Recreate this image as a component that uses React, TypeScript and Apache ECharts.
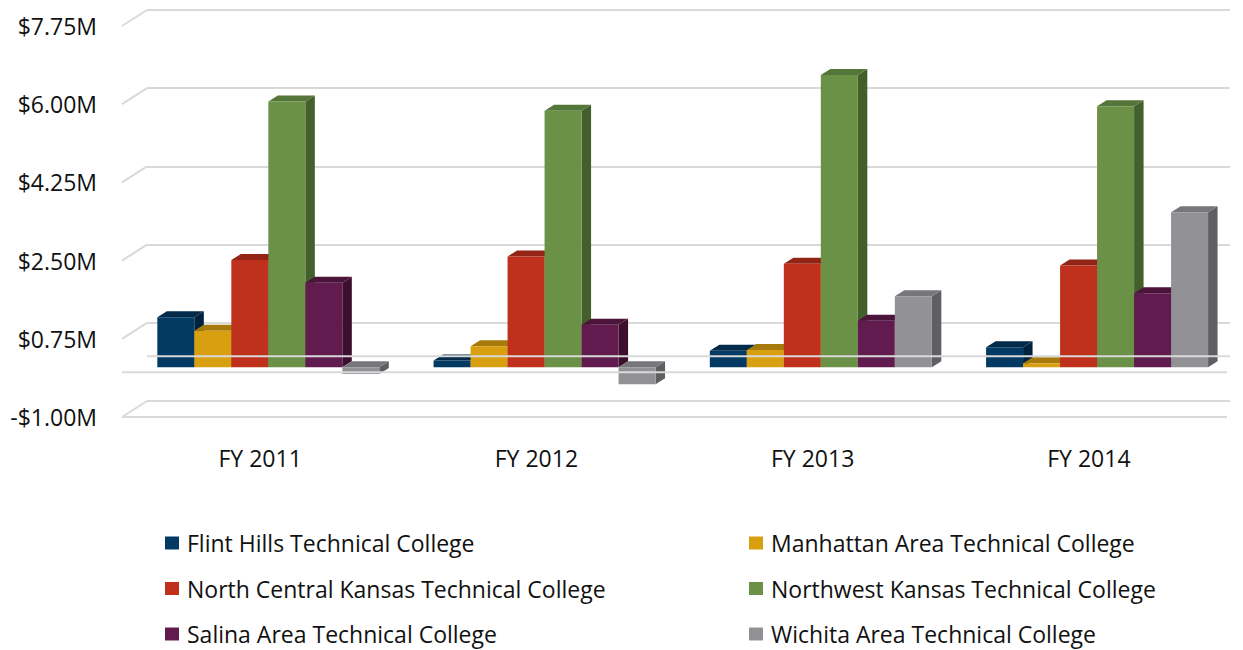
import React, { useEffect, useRef } from "react";
import * as echarts from "echarts";

// ---------- data ----------
const CATEGORIES = ["FY 2011", "FY 2012", "FY 2013", "FY 2014"];
const SERIES_NAMES = [
  "Flint Hills Technical College",
  "Manhattan Area Technical College",
  "North Central Kansas Technical College",
  "Northwest Kansas Technical College",
  "Salina Area Technical College",
  "Wichita Area Technical College",
];
const FLINT_HILLS = [1.12, 0.15, 0.37, 0.45];
const MANHATTAN = [0.82, 0.47, 0.39, 0.09];
const NORTH_CENTRAL = [2.4, 2.48, 2.32, 2.28];
const NORTHWEST = [5.95, 5.74, 6.54, 5.84];
const SALINA = [1.89, 0.95, 1.04, 1.66];
const WICHITA = [-0.15, -0.38, 1.59, 3.47];
const SERIES_VALUES = [FLINT_HILLS, MANHATTAN, NORTH_CENTRAL, NORTHWEST, SALINA, WICHITA];
const Y_TICKS = [-1, 0.75, 2.5, 4.25, 6, 7.75];

// ---------- styles ----------
const FRONT_COLORS = ["#033a63", "#d8a010", "#c0311d", "#6a9146", "#621b4e", "#929296"];
const TOP_COLORS = ["#022b4b", "#a67b0b", "#922515", "#55763a", "#4c133b", "#77777b"];
const SIDE_COLORS = ["#01223d", "#8a660a", "#7a1f11", "#435f2c", "#3d0f2f", "#5f5f63"];
const GRID_COLOR = "#d9d9d9";
const TEXT_COLOR = "#111111";
const FONT = "'Open Sans', 'Noto Sans', sans-serif";
const FONT_SIZE = 23;

const AXIS_MIN = Y_TICKS[0];
const AXIS_INTERVAL = Y_TICKS[1] - Y_TICKS[0];
const AXIS_SPAN = Y_TICKS[Y_TICKS.length - 1] - Y_TICKS[0];

const WALL_DX = 25;
const WALL_DY = -16;
const FACE_DY = -5;
const DEPTH_DX = 9.5;
const DEPTH_DY = -6;
const BAR_W_FRAC = 37 / 276.25;
const GROUP_OFFSET_FRAC = -102.8 / 276.25;

const fmt = (v: number) => {
  const real = Math.round((v + AXIS_MIN) * 100) / 100;
  return (real < 0 ? "-" : "") + "$" + Math.abs(real).toFixed(2) + "M";
};

function makeBarRender(si: number) {
  return (params: any, api: any) => {
    const j = api.value(0);
    const v = api.value(1);
    const base = api.coord([j, 0 - AXIS_MIN]);
    const tip = api.coord([j, v - AXIS_MIN]);
    const band = api.size([1, 0])[0];
    const w = band * BAR_W_FRAC;
    const x0 = base[0] + band * GROUP_OFFSET_FRAC + si * w;
    const x1 = x0 + w;
    const yt = Math.min(base[1], tip[1]) + FACE_DY;
    const yb = Math.max(base[1], tip[1]) + FACE_DY;
    return {
      type: "group",
      children: [
        {
          type: "polygon",
          shape: {
            points: [
              [x1, yt],
              [x1 + DEPTH_DX, yt + DEPTH_DY],
              [x1 + DEPTH_DX, yb + DEPTH_DY],
              [x1, yb],
            ],
          },
          style: { fill: SIDE_COLORS[si] },
        },
        {
          type: "polygon",
          shape: {
            points: [
              [x0, yt],
              [x1, yt],
              [x1 + DEPTH_DX, yt + DEPTH_DY],
              [x0 + DEPTH_DX, yt + DEPTH_DY],
            ],
          },
          style: { fill: TOP_COLORS[si] },
        },
        {
          type: "rect",
          shape: { x: x0, y: yt, width: w, height: Math.max(yb - yt, 0.5) },
          style: { fill: FRONT_COLORS[si] },
        },
      ],
    };
  };
}

function frameRender(params: any, api: any) {
  const t = api.value(1);
  const cs = params.coordSys;
  const p = api.coord([0, t - AXIS_MIN]);
  const y = p[1];
  const children: any[] = [
    {
      type: "line",
      shape: { x1: cs.x, y1: y, x2: cs.x + WALL_DX, y2: y + WALL_DY },
      style: { stroke: GRID_COLOR, lineWidth: 2 },
    },
  ];
  if (params.dataIndex === 0) {
    children.push({
      type: "line",
      shape: { x1: cs.x, y1: y, x2: cs.x + cs.width, y2: y },
      style: { stroke: GRID_COLOR, lineWidth: 2 },
    });
  }
  return { type: "group", children };
}

function floorRender(params: any, api: any) {
  const cs = params.coordSys;
  const p = api.coord([0, api.value(1) - AXIS_MIN]);
  const y = p[1];
  return {
    type: "group",
    children: [
      {
        type: "line",
        shape: { x1: cs.x + WALL_DX, y1: y + WALL_DY, x2: cs.x + cs.width + 3, y2: y + WALL_DY },
        style: { stroke: GRID_COLOR, lineWidth: 2 },
      },
      {
        type: "line",
        shape: { x1: cs.x, y1: y, x2: cs.x + cs.width, y2: y },
        style: { stroke: GRID_COLOR, lineWidth: 2 },
      },
    ],
  };
}

export default function App() {
  const ref = useRef<HTMLDivElement>(null);
  useEffect(() => {
    document.body.style.margin = "0";
    if (!ref.current) return;
    const chart = echarts.init(ref.current, null, { renderer: "svg" });
    const yAxisCommon = {
      type: "value",
      min: 0,
      max: AXIS_SPAN,
      interval: AXIS_INTERVAL,
    };
    const barSeries = SERIES_NAMES.map((name, si) => ({
      name,
      type: "custom",
      xAxisIndex: 0,
      yAxisIndex: 0,
      z: 2,
      clip: false,
      itemStyle: { color: FRONT_COLORS[si] },
      renderItem: makeBarRender(si),
      encode: { x: 0, y: 1 },
      data: SERIES_VALUES[si].map((v, j) => [j, v]),
    }));
    const legendCommon = {
      top: 531,
      orient: "vertical",
      padding: 0,
      icon: "rect",
      itemWidth: 14,
      itemHeight: 13,
      itemGap: 21.5,
      selectedMode: false,
      textStyle: {
        fontSize: FONT_SIZE,
        lineHeight: 24,
        color: TEXT_COLOR,
        fontFamily: FONT,
        padding: [0, 0, 0, 3],
      },
    };
    chart.setOption({
      animation: false,
      backgroundColor: "#ffffff",
      textStyle: { fontFamily: FONT },
      grid: [
        { left: 122, top: 26, width: 1105, height: 391 },
        { left: 147, top: 10, width: 1083, height: 391 },
      ],
      xAxis: [
        {
          type: "category",
          gridIndex: 0,
          data: CATEGORIES,
          axisLine: { show: false },
          axisTick: { show: false },
          axisLabel: {
            margin: 29,
            fontSize: FONT_SIZE,
            color: TEXT_COLOR,
            fontFamily: FONT,
          },
        },
        {
          type: "category",
          gridIndex: 1,
          data: CATEGORIES,
          show: false,
        },
      ],
      yAxis: [
        {
          ...yAxisCommon,
          gridIndex: 0,
          axisLine: { show: false },
          axisTick: { show: false },
          splitLine: { show: false },
          axisLabel: {
            margin: 25,
            fontSize: FONT_SIZE,
            color: TEXT_COLOR,
            fontFamily: FONT,
            formatter: fmt,
          },
        },
        {
          ...yAxisCommon,
          gridIndex: 1,
          axisLine: { show: false },
          axisTick: { show: false },
          axisLabel: { show: false },
          splitLine: { show: true, lineStyle: { color: GRID_COLOR, width: 2 } },
        },
      ],
      legend: [
        {
          ...legendCommon,
          left: 165,
          data: [SERIES_NAMES[0], SERIES_NAMES[2], SERIES_NAMES[4]],
        },
        {
          ...legendCommon,
          left: 749,
          data: [SERIES_NAMES[1], SERIES_NAMES[3], SERIES_NAMES[5]],
        },
      ],
      series: [
        ...barSeries,
        {
          name: "frame",
          type: "custom",
          xAxisIndex: 0,
          yAxisIndex: 0,
          z: 3,
          silent: true,
          clip: false,
          renderItem: frameRender,
          encode: { x: 0, y: 1 },
          data: Y_TICKS.map((t) => [0, t]),
        },
        {
          name: "floor",
          type: "custom",
          xAxisIndex: 0,
          yAxisIndex: 0,
          z: 3,
          silent: true,
          clip: false,
          renderItem: floorRender,
          encode: { x: 0, y: 1 },
          data: [[0, 0]],
        },
      ],
    });
    return () => chart.dispose();
  }, []);
  return <div ref={ref} style={{ width: 1243, height: 650 }} />;
}
